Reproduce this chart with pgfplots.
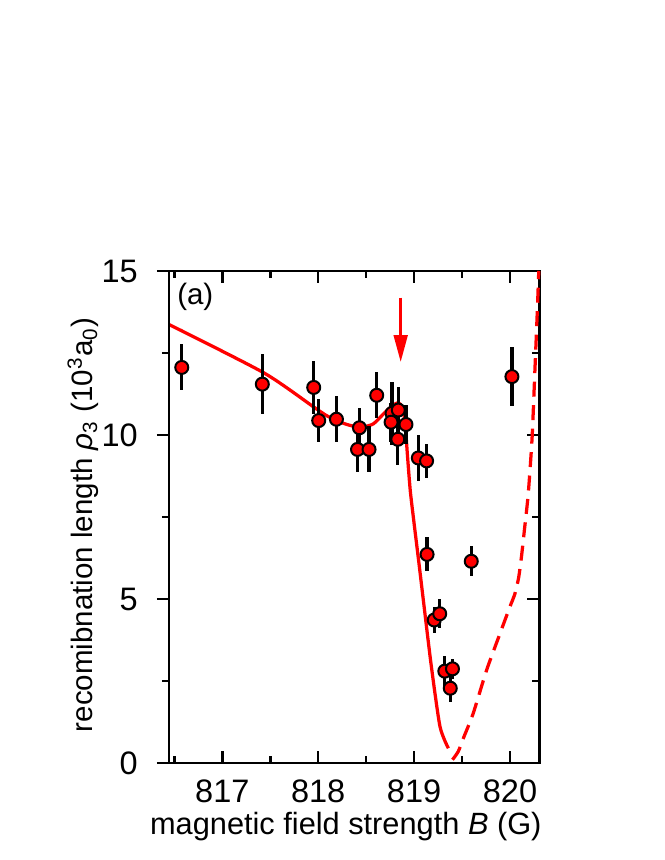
\documentclass[border=0pt]{standalone}
\usepackage{fontspec}
\setmainfont{Liberation Sans}
\usepackage{pgfplots}
\pgfplotsset{compat=1.18}
\usetikzlibrary{arrows.meta}

\definecolor{fitred}{RGB}{255,0,0}

% measured points: B (G), rho_3 (10^3 a0), error
\pgfplotstableread{
x       y      e
816.577 12.06  0.70
817.417 11.55  0.92
817.953 11.45  0.80
818.005 10.44  0.65
818.190 10.48  0.70
818.430 10.22  0.60
818.410  9.56  0.70
818.530  9.56  0.70
818.610 11.21  0.70
818.770 10.66  0.95
818.760 10.39  0.60
818.835 10.76  0.70
818.830  9.87  0.80
818.915 10.32  0.60
819.044  9.30  0.70
819.130  9.21  0.52
820.020 11.78  0.90
819.135  6.36  0.52
819.596  6.15  0.46
819.210  4.36  0.40
819.267  4.55  0.44
819.320  2.80  0.45
819.400  2.87  0.30
819.377  2.28  0.43
}\measured

\pgfplotsset{
  common/.style={
    at={(0,0)}, anchor=south west,
    scale only axis, width=148.1pt, height=196.8pt,
    xmin=816.444, xmax=820.305, ymin=0, ymax=15,
    xtick={817,818,819,820}, minor xtick={816.5,817.5,818.5,819.5},
    ytick={0,5,10,15}, minor ytick={2.5,7.5,12.5},
    major tick length=4.8pt, minor tick length=2.8pt,
    axis line style={line width=1pt},
    every tick/.style={black, line width=1pt},
    tick label style={font=\fontsize{13}{15}\selectfont},
    /pgf/number format/assume math mode=true,
    clip=false,
  },
}

\begin{document}
\fontsize{11.8}{14}\selectfont
\begin{tikzpicture}
\useasboundingbox (-67.6pt,-38.8pt) rectangle (198pt,305.2pt);

% box, inward ticks, data
\begin{axis}[common,
    xtick pos=both, ytick pos=right, yticklabels={},
    tick align=inside,
    xticklabel style={yshift=-2.6pt},
  ]
  % fit, solid part
  \addplot[fitred, line width=1.3pt, smooth, tension=0.4] coordinates {
    (816.444,13.37) (817.43,11.90) (817.95,10.86) (818.088,10.59)
    (818.26,10.36) (818.366,10.27) (818.47,10.25) (818.575,10.34)
    (818.68,10.64) (818.77,10.89) (818.835,10.98) (818.875,10.85)
    (818.905,10.40) (818.93,9.40) (818.96,8.30) (819.00,7.30)
    (819.05,6.10) (819.096,4.97) (819.18,2.94) (819.27,1.11)
    (819.357,0.45)
  };
  % fit, dashed part
  \addplot[fitred, line width=1.3pt, smooth, tension=0.4,
    dash pattern=on 6pt off 3.4pt] coordinates {
    (819.40,0.10) (819.46,0.35) (819.52,0.80) (819.617,1.52)
    (819.757,2.84) (819.896,3.95) (820.00,4.77) (820.05,5.15)
    (820.09,5.65) (820.12,6.30) (820.15,7.10) (820.19,8.20)
    (820.23,9.90) (820.26,12.00) (820.285,13.80) (820.30,15.00)
  };
  % error bars first, so that the markers lie on top
  \addplot[draw=none, mark=none,
    error bars/.cd, y dir=both, y explicit, error mark=none,
    error bar style={black, line width=1.3pt}]
    table[x=x, y=y, y error=e] {\measured};
  \addplot[only marks, mark=*, mark size=2.6pt,
    mark options={fill=fitred, draw=black, line width=0.8pt}]
    table[x=x, y=y] {\measured};

  \draw[fitred, line width=1.3pt, -{Triangle[length=10.8pt, width=5.4pt]}]
    (axis cs:818.86,14.19) -- (axis cs:818.86,12.22);
  \node[anchor=north west, inner sep=0pt] at (axis description cs:0.021,0.976) {(a)};

  \node[anchor=north, inner sep=0pt, font=\fontsize{12.3}{14}\selectfont]
    at (axis description cs:0.4775,-0.098)
    {magnetic field strength \textit{B} (G)};
  \node[rotate=90, inner sep=0pt] at (axis description cs:-0.232,0.4837)
    {recomibnation length \textit{ρ}\textsubscript{3} (10\textsuperscript{3}a\textsubscript{0})};
\end{axis}

% left axis: outward ticks and labels
\begin{axis}[common,
    hide x axis, axis y line*=left,
    tick align=outside,
    yticklabel style={inner sep=0pt, xshift=-7.5pt},
  ]
  \addplot[draw=none] coordinates {(818,5)};
\end{axis}
\end{tikzpicture}
\end{document}
